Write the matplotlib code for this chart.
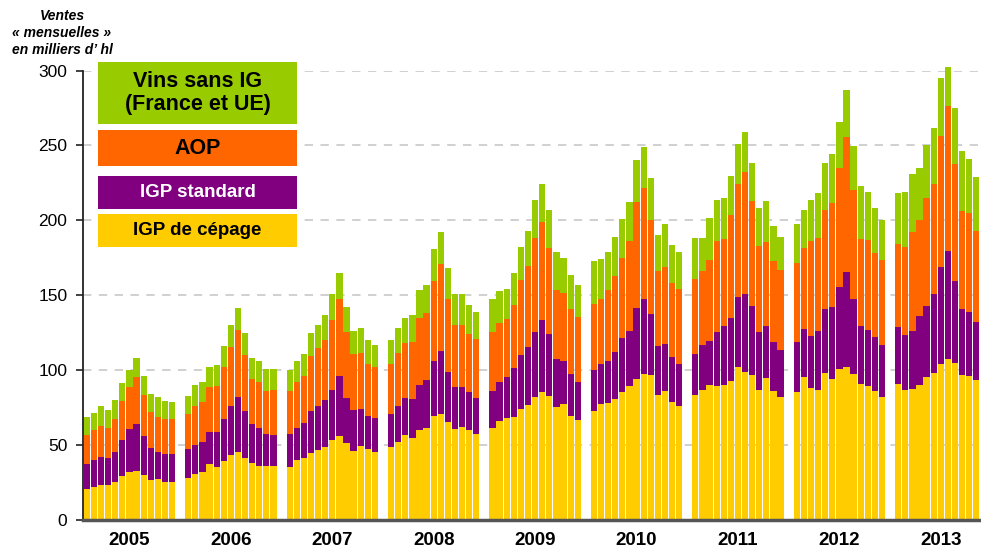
import numpy as np
import matplotlib
matplotlib.use("Agg")
import matplotlib.pyplot as plt
from matplotlib.patches import Rectangle

plt.rcParams['font.family'] = ['Liberation Sans', 'DejaVu Sans']

# ventes par période de 4 semaines (13 par an), milliers d'hl
annees = ['2005', '2006', '2007', '2008', '2009', '2010', '2011', '2012', '2013']
periodes_par_an = 13

igp_cepage = [
    20.4, 21.7, 23.1, 23.1, 25.1, 29.1, 31.8, 32.4, 29.8, 26.4, 27.1, 25.1, 25.1,
    27.8, 30.4, 31.8, 37.1, 35.1, 39.1, 43.1, 45.2, 41.1, 37.8, 35.8, 35.8, 35.8,
    35.1, 39.8, 41.1, 44.5, 46.5, 48.5, 53.2, 55.9, 51.2, 45.8, 49.2, 47.2, 45.2,
    48.5, 51.8, 56.5, 54.5, 59.9, 61.2, 69.2, 70.6, 65.2, 60.5, 61.9, 59.9, 57.2,
    61.2, 65.9, 67.9, 68.6, 73.9, 76.6, 81.9, 85.3, 82.6, 75.3, 77.3, 69.2, 66.6,
    72.6, 77.3, 77.9, 80.6, 85.3, 89.3, 94.0, 97.3, 96.7, 83.3, 86.0, 78.6, 75.9,
    83.3, 86.6, 90.0, 89.3, 90.0, 92.6, 102.0, 98.7, 96.7, 86.6, 94.6, 86.0, 81.9,
    85.3, 95.3, 88.0, 86.6, 98.0, 94.0, 100.7, 102.0, 97.3, 90.6, 89.3, 86.0, 81.9,
    90.6, 86.6, 87.3, 90.0, 95.3, 98.0, 104.0, 107.4, 104.7, 96.7, 96.0, 93.3,
]
igp_standard = [
    16.7, 18.1, 18.7, 18.0, 20.1, 24.1, 28.7, 31.5, 26.1, 21.4, 18.1, 18.7, 18.7,
    19.4, 19.4, 20.0, 21.4, 23.4, 28.1, 32.8, 36.7, 31.5, 26.1, 25.4, 21.4, 20.7,
    22.1, 21.4, 23.4, 28.1, 29.4, 31.4, 33.4, 40.1, 30.1, 27.4, 24.7, 22.0, 22.7,
    22.1, 24.1, 24.8, 26.1, 30.1, 32.1, 36.8, 42.1, 33.5, 28.1, 26.7, 25.4, 24.1,
    24.8, 26.1, 27.4, 32.7, 36.1, 38.8, 43.5, 48.1, 41.5, 32.1, 28.7, 28.1, 25.4,
    27.4, 26.7, 28.1, 31.4, 36.1, 36.8, 47.5, 50.2, 40.8, 32.8, 31.4, 30.1, 28.1,
    27.4, 30.1, 29.4, 36.1, 39.4, 42.2, 46.8, 52.1, 46.1, 38.8, 34.8, 32.7, 31.5,
    33.4, 32.1, 34.7, 39.5, 42.8, 48.1, 54.8, 63.6, 50.2, 38.8, 37.5, 36.1, 34.8,
    38.2, 36.8, 38.8, 46.1, 47.5, 52.8, 64.9, 72.2, 54.8, 44.1, 42.8, 38.8,
]
aop = [
    19.4, 20.1, 20.7, 20.1, 22.0, 26.1, 28.1, 31.4, 27.4, 24.1, 23.4, 23.4, 23.4,
    23.4, 26.1, 26.8, 30.1, 30.8, 34.8, 39.5, 44.9, 37.4, 30.1, 30.8, 28.8, 30.1,
    28.8, 30.8, 31.5, 36.8, 38.8, 40.2, 46.8, 51.5, 44.1, 37.5, 37.5, 34.8, 34.1,
    33.4, 35.5, 36.8, 38.1, 44.8, 44.8, 53.5, 58.2, 48.8, 41.5, 41.5, 38.8, 39.4,
    39.4, 39.4, 38.8, 42.2, 50.2, 54.2, 62.9, 65.6, 57.5, 46.1, 45.5, 43.5, 43.5,
    44.1, 43.5, 47.5, 50.9, 53.5, 60.2, 70.9, 74.2, 62.8, 50.1, 51.5, 49.5, 50.2,
    50.2, 49.5, 54.2, 60.9, 58.2, 68.9, 75.6, 81.6, 70.2, 57.5, 56.2, 54.2, 53.5,
    52.9, 54.2, 63.6, 62.2, 66.2, 69.6, 79.6, 90.3, 72.9, 58.2, 60.2, 56.2, 56.9,
    55.5, 58.9, 66.2, 64.2, 72.3, 73.6, 87.6, 97.0, 78.3, 65.6, 66.2, 60.9,
]
vins_sans_ig = [
    12.1, 11.3, 13.4, 12.0, 12.7, 12.0, 11.4, 12.7, 12.7, 12.0, 13.3, 12.1, 11.4,
    12.0, 14.1, 13.4, 13.4, 14.0, 14.1, 14.7, 14.7, 14.7, 14.0, 14.0, 14.7, 14.1,
    14.0, 14.0, 14.7, 15.3, 15.4, 16.7, 17.4, 17.4, 16.7, 15.4, 16.7, 16.1, 14.7,
    16.1, 16.7, 16.7, 18.1, 18.7, 18.8, 21.4, 21.4, 20.7, 20.7, 20.7, 19.4, 18.1,
    22.1, 21.4, 20.1, 21.4, 22.1, 23.4, 25.4, 25.4, 25.4, 25.4, 23.4, 22.7, 21.4,
    28.8, 26.7, 25.4, 26.1, 26.1, 26.1, 28.1, 27.5, 28.1, 24.1, 28.8, 25.4, 24.7,
    27.4, 22.1, 28.1, 27.4, 27.5, 26.1, 26.8, 26.8, 25.5, 25.5, 27.4, 23.4, 22.1,
    26.1, 25.4, 27.4, 30.1, 31.5, 32.8, 30.8, 31.4, 29.4, 35.5, 32.1, 30.1, 26.7,
    34.1, 36.8, 38.8, 34.8, 35.4, 37.5, 38.8, 26.1, 37.5, 40.1, 36.1, 36.1,
]

series = [
    ('IGP de cépage', igp_cepage, '#FFCC00', 'black', 13.5),
    ('IGP standard', igp_standard, '#800080', 'white', 13.5),
    ('AOP', aop, '#FF6600', 'black', 15.5),
    ('Vins sans IG\n(France et UE)', vins_sans_ig, '#99CC00', 'black', 15.5),
]

W, H = 981, 548
fig = plt.figure(figsize=(W / 100, H / 100), dpi=100)
ax = fig.add_axes([82.7 / W, (H - 519.5) / H, (W - 82.7) / W, (519.5 - 70.7) / H])

# une colonne par période, un petit blanc entre deux années
pas_annee = 14.28
k = np.arange(len(igp_cepage))
x = (k // periodes_par_an) * pas_annee + (k % periodes_par_an)

bas = np.zeros(len(x))
for nom, valeurs, couleur, _, _ in series:
    valeurs = np.array(valeurs)
    ax.bar(x, valeurs, width=0.88, bottom=bas, color=couleur, linewidth=0,
           clip_on=False, zorder=2)
    bas += valeurs

ax.set_xlim(-0.58, 125.9)
ax.set_ylim(0, 300)
ax.set_yticks(range(0, 301, 50))
ax.set_xticks(np.arange(len(annees)) * pas_annee + 6)
ax.set_xticklabels(annees, fontweight='bold')

ax.yaxis.grid(True, color='#c8c8c8', linestyle=(0, (5, 4.5)), linewidth=1.2)
ax.set_axisbelow(True)

for cote in ['top', 'right']:
    ax.spines[cote].set_visible(False)
ax.spines['left'].set_color('#222222')
ax.spines['left'].set_linewidth(1.3)
ax.spines['left'].set_bounds(0, 300)
ax.spines['bottom'].set_color('#555555')
ax.spines['bottom'].set_linewidth(2.5)

ax.tick_params(axis='y', length=5, width=1.2, pad=6, labelsize=12.5, color='#222222')
ax.tick_params(axis='x', length=0, pad=9, labelsize=13.5)

fig.text(62 / W, 1 - 33 / H, 'Ventes\n« mensuelles »\nen milliers d’ hl',
         ha='center', va='center', fontsize=10, fontweight='bold',
         style='italic', linespacing=1.25)

# légende en cartouches colorés, du haut vers le bas
cases = [(62, 124), (130, 166), (176, 209), (214, 247)]
for (haut, bas_px), (nom, _, couleur, couleur_txt, taille) in zip(cases, series[::-1]):
    fig.add_artist(Rectangle((98 / W, 1 - bas_px / H), (297 - 98) / W,
                             (bas_px - haut) / H, transform=fig.transFigure,
                             facecolor=couleur, edgecolor='none'))
    fig.text(197.5 / W, 1 - (haut + bas_px) / 2 / H, nom, ha='center', va='center',
             fontsize=taille, fontweight='bold', color=couleur_txt, linespacing=1.15)

fig.savefig('out.png', dpi=100)
plt.close(fig)
